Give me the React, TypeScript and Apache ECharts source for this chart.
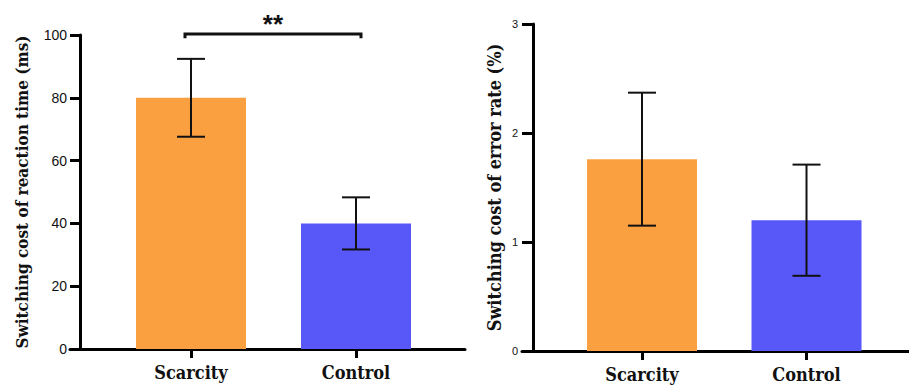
import React, { useEffect, useRef } from "react";
import * as echarts from "echarts";

const categories = ["Scarcity", "Control"];
const rtMeans = [80, 40];
const rtErrors = [12.4, 8.3];
const erMeans = [1.76, 1.2];
const erErrors = [0.61, 0.51];
const rtTicks = { min: 0, max: 100, interval: 20 };
const erTicks = { min: 0, max: 3, interval: 1 };
const barColors = ["#FAA041", "#5858F9"];
const sigMark = { from: 0, to: 1, value: 100.3, drop: 1.3, text: "**" };

const SERIF = "DejaVu Serif Condensed";
const SANS = "Liberation Sans";

function errorSeries(means: number[], errs: number[], axis: number) {
  return {
    type: "custom",
    xAxisIndex: axis,
    yAxisIndex: axis,
    data: means.map((m, i) => [i, m - errs[i], m + errs[i]]),
    renderItem: (params: any, api: any) => {
      const x = api.value(0);
      const lo = api.coord([x, api.value(1)]);
      const hi = api.coord([x, api.value(2)]);
      const half = 14;
      const style = { stroke: "#111", lineWidth: 2 };
      return {
        type: "group",
        children: [
          { type: "line", shape: { x1: lo[0], y1: lo[1], x2: hi[0], y2: hi[1] }, style },
          { type: "line", shape: { x1: hi[0] - half, y1: hi[1], x2: hi[0] + half, y2: hi[1] }, style },
          { type: "line", shape: { x1: lo[0] - half, y1: lo[1], x2: lo[0] + half, y2: lo[1] }, style },
        ],
      };
    },
    z: 5,
  };
}

function xAxisFor(grid: number, min: number, max: number) {
  return {
    type: "value",
    gridIndex: grid,
    min,
    max,
    splitLine: { show: false },
    axisLine: { show: true, onZero: false, lineStyle: { color: "#000", width: 3 } },
    axisTick: { show: true, customValues: [0, 1], length: 9, lineStyle: { color: "#000", width: 3 } },
    axisLabel: {
      customValues: [0, 1],
      formatter: (v: number) => categories[Math.round(v)] ?? "",
      color: "#111",
      fontFamily: SERIF,
      fontWeight: "bold",
      fontSize: 18,
      margin: 14,
    },
  };
}

export default function App() {
  const ref = useRef<HTMLDivElement>(null);
  useEffect(() => {
    if (!ref.current) return;
    const chart = echarts.init(ref.current, undefined, { renderer: "svg" });
    const option: any = {
      animation: false,
      backgroundColor: "#fff",
      grid: [
        { left: 70, top: 35, width: 395, height: 314 },
        { left: 522, top: 24, width: 387, height: 327 },
      ],
      xAxis: [xAxisFor(0, -0.7333, 1.6606), xAxisFor(1, -0.7295, 1.623)],
      yAxis: [
        {
          type: "value",
          gridIndex: 0,
          ...rtTicks,
          offset: -10,
          name: "Switching cost of reaction time (ms)",
          nameLocation: "middle",
          nameGap: 50,
          nameTextStyle: { fontFamily: SERIF, fontWeight: "bold", fontSize: 17, color: "#111" },
          splitLine: { show: false },
          axisLine: { show: true, onZero: false, lineStyle: { color: "#000", width: 3 } },
          axisTick: { show: true, length: 10, lineStyle: { color: "#000", width: 3 } },
          axisLabel: { color: "#111", fontFamily: SANS, fontSize: 14, margin: 13 },
        },
        {
          type: "value",
          gridIndex: 1,
          ...erTicks,
          offset: -11,
          name: "Switching cost of error rate (%)",
          nameLocation: "middle",
          nameGap: 30,
          nameTextStyle: { fontFamily: SERIF, fontWeight: "bold", fontSize: 18, color: "#111" },
          splitLine: { show: false },
          axisLine: { show: true, onZero: false, lineStyle: { color: "#000", width: 3 } },
          axisTick: { show: true, length: 11, lineStyle: { color: "#000", width: 3 } },
          axisLabel: { color: "#111", fontFamily: SANS, fontSize: 11, margin: 15 },
        },
      ],
      series: [
        {
          type: "bar",
          xAxisIndex: 0,
          yAxisIndex: 0,
          barWidth: 110,
          data: rtMeans.map((v, i) => ({ value: [i, v], itemStyle: { color: barColors[i] } })),
        },
        {
          type: "bar",
          xAxisIndex: 1,
          yAxisIndex: 1,
          barWidth: 110,
          data: erMeans.map((v, i) => ({ value: [i, v], itemStyle: { color: barColors[i] } })),
        },
        errorSeries(rtMeans, rtErrors, 0),
        errorSeries(erMeans, erErrors, 1),
        {
          type: "custom",
          xAxisIndex: 0,
          yAxisIndex: 0,
          clip: false,
          data: [[sigMark.from, sigMark.to, sigMark.value, sigMark.value - sigMark.drop]],
          renderItem: (params: any, api: any) => {
            const a = api.coord([api.value(0), api.value(2)]);
            const b = api.coord([api.value(1), api.value(2)]);
            const a2 = api.coord([api.value(0), api.value(3)]);
            const x1 = a[0] - 6;
            const x2 = b[0] + 5;
            const style = { stroke: "#111", lineWidth: 3, fill: "none" };
            return {
              type: "group",
              children: [
                {
                  type: "polyline",
                  shape: { points: [[x1, a2[1]], [x1, a[1]], [x2, a[1]], [x2, a2[1]]] },
                  style,
                },
                {
                  type: "text",
                  style: {
                    text: sigMark.text,
                    x: (x1 + x2) / 2,
                    y: a[1] + 3,
                    align: "center",
                    verticalAlign: "bottom",
                    fontFamily: SANS,
                    fontWeight: "bold",
                    fontSize: 26,
                    fill: "#111",
                  },
                },
              ],
            };
          },
          z: 6,
        },
      ],
    };
    chart.setOption(option);
    return () => chart.dispose();
  }, []);
  return (
    <div
      ref={ref}
      style={{ position: "fixed", left: 0, top: 0, width: 909, height: 388, background: "#fff" }}
    />
  );
}
